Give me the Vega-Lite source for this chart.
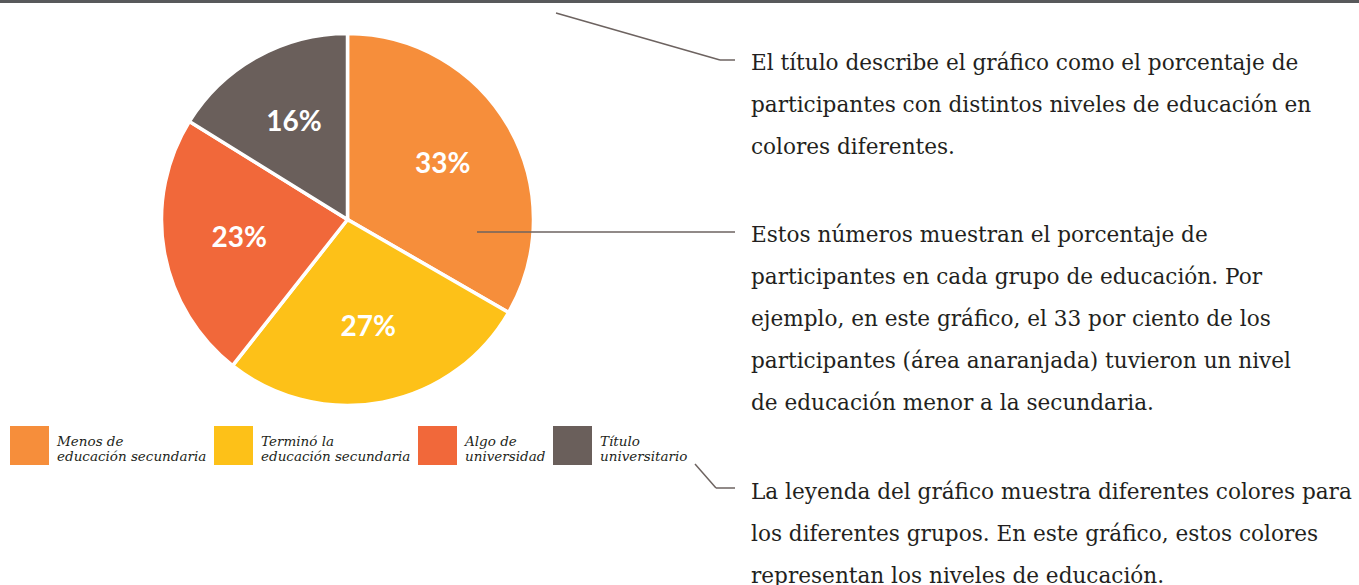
{
  "$schema": "https://vega.github.io/schema/vega-lite/v6.json",
  "width": 1359,
  "height": 585,
  "autosize": {"type": "none"},
  "padding": 0,
  "background": "white",
  "config": {"view": {"stroke": null}},
  "datasets": {
    "educacion": [
      {"grupo": "Menos de educación secundaria", "porcentaje": 0.33, "orden": 1},
      {"grupo": "Terminó la educación secundaria", "porcentaje": 0.27, "orden": 2},
      {"grupo": "Algo de universidad", "porcentaje": 0.23, "orden": 3},
      {"grupo": "Título universitario", "porcentaje": 0.16, "orden": 4}
    ]
  },
  "data": {"name": "educacion"},
  "layer": [
    {
      "data": {"values": [{}]},
      "mark": {"type": "rule", "color": "#58595b", "strokeWidth": 3},
      "encoding": {
        "x": {"datum": 0, "type": "quantitative", "scale": {"domain": [0, 1359], "nice": false, "zero": false}, "axis": null},
        "x2": {"datum": 1359},
        "y": {"datum": 1.5, "type": "quantitative", "scale": {"domain": [0, 585], "nice": false, "zero": false, "reverse": true}, "axis": null}
      }
    },
    {
      "mark": {"type": "arc", "outerRadius": 186, "stroke": "white", "strokeWidth": 3.5},
      "encoding": {
        "x": {"datum": 347.5, "type": "quantitative", "scale": {"domain": [0, 1359], "nice": false, "zero": false}, "axis": null},
        "y": {"datum": 219.5, "type": "quantitative", "scale": {"domain": [0, 585], "nice": false, "zero": false, "reverse": true}, "axis": null},
        "theta": {"field": "porcentaje", "type": "quantitative", "stack": true},
        "order": {"field": "orden", "type": "quantitative"},
        "color": {
          "field": "grupo",
          "type": "nominal",
          "scale": {
            "domain": ["Menos de educación secundaria", "Terminó la educación secundaria", "Algo de universidad", "Título universitario"],
            "range": ["#f68e3b", "#fdc118", "#f1683a", "#6a5f5b"]
          },
          "legend": {
            "title": null,
            "orient": "none",
            "legendX": 10,
            "legendY": 426,
            "direction": "horizontal",
            "columns": 4,
            "symbolType": "square",
            "symbolSize": 1521,
            "symbolStrokeWidth": 0,
            "symbolOpacity": 1,
            "labelFont": "DejaVu Serif",
            "labelFontStyle": "italic",
            "labelFontSize": 13.5,
            "labelColor": "#231f20",
            "labelBaseline": "alphabetic",
            "labelOffset": 8,
            "columnPadding": 7,
            "labelLimit": 400,
            "padding": 0,
            "labelExpr": "indexof(datum.label, 'educación secundaria') > 0 ? [replace(datum.label, ' educación secundaria', ''), 'educación secundaria'] : split(replace(datum.label, ' universi', '|universi'), '|')",
            "encode": {"labels": {"update": {"lineHeight": {"value": 19}, "dy": {"value": -4}}}}
          }
        }
      }
    },
    {
      "mark": {"type": "text", "radius": 110, "font": "Lato", "fontWeight": "bold", "fontSize": 28, "color": "white", "baseline": "middle", "align": "center"},
      "encoding": {
        "x": {"datum": 347.5, "type": "quantitative", "scale": {"domain": [0, 1359], "nice": false, "zero": false}, "axis": null},
        "y": {"datum": 219.5, "type": "quantitative", "scale": {"domain": [0, 585], "nice": false, "zero": false, "reverse": true}, "axis": null},
        "theta": {"field": "porcentaje", "type": "quantitative", "stack": true},
        "order": {"field": "orden", "type": "quantitative"},
        "text": {"field": "porcentaje", "type": "quantitative", "format": ".0%"}
      }
    },
    {
      "data": {"values": [{"nota": "El título describe el gráfico como el porcentaje de\nparticipantes con distintos niveles de educación en\ncolores diferentes."}]},
      "mark": {"type": "text", "font": "DejaVu Serif", "fontSize": 21.6, "lineHeight": 42, "lineBreak": "\n", "color": "#231f20", "align": "left", "baseline": "alphabetic"},
      "encoding": {
        "x": {"datum": 751, "type": "quantitative", "scale": {"domain": [0, 1359], "nice": false, "zero": false}, "axis": null},
        "y": {"datum": 70, "type": "quantitative", "scale": {"domain": [0, 585], "nice": false, "zero": false, "reverse": true}, "axis": null},
        "text": {"field": "nota", "type": "nominal"}
      }
    },
    {
      "data": {"values": [{"nota": "Estos números muestran el porcentaje de\nparticipantes en cada grupo de educación. Por\nejemplo, en este gráfico, el 33 por ciento de los\nparticipantes (área anaranjada) tuvieron un nivel\nde educación menor a la secundaria."}]},
      "mark": {"type": "text", "font": "DejaVu Serif", "fontSize": 21.6, "lineHeight": 42, "lineBreak": "\n", "color": "#231f20", "align": "left", "baseline": "alphabetic"},
      "encoding": {
        "x": {"datum": 751, "type": "quantitative", "scale": {"domain": [0, 1359], "nice": false, "zero": false}, "axis": null},
        "y": {"datum": 242, "type": "quantitative", "scale": {"domain": [0, 585], "nice": false, "zero": false, "reverse": true}, "axis": null},
        "text": {"field": "nota", "type": "nominal"}
      }
    },
    {
      "data": {"values": [{"nota": "La leyenda del gráfico muestra diferentes colores para\nlos diferentes grupos. En este gráfico, estos colores\nrepresentan los niveles de educación."}]},
      "mark": {"type": "text", "font": "DejaVu Serif", "fontSize": 21.6, "lineHeight": 42, "lineBreak": "\n", "color": "#231f20", "align": "left", "baseline": "alphabetic"},
      "encoding": {
        "x": {"datum": 751, "type": "quantitative", "scale": {"domain": [0, 1359], "nice": false, "zero": false}, "axis": null},
        "y": {"datum": 499, "type": "quantitative", "scale": {"domain": [0, 585], "nice": false, "zero": false, "reverse": true}, "axis": null},
        "text": {"field": "nota", "type": "nominal"}
      }
    },
    {
      "data": {"values": [{}]},
      "mark": {"type": "rule", "color": "#6d6360", "strokeWidth": 1.5},
      "encoding": {
        "x": {"datum": 556, "type": "quantitative", "scale": {"domain": [0, 1359], "nice": false, "zero": false}, "axis": null},
        "x2": {"datum": 720},
        "y": {"datum": 13, "type": "quantitative", "scale": {"domain": [0, 585], "nice": false, "zero": false, "reverse": true}, "axis": null},
        "y2": {"datum": 60}
      }
    },
    {
      "data": {"values": [{}]},
      "mark": {"type": "rule", "color": "#6d6360", "strokeWidth": 1.5},
      "encoding": {
        "x": {"datum": 720, "type": "quantitative", "scale": {"domain": [0, 1359], "nice": false, "zero": false}, "axis": null},
        "x2": {"datum": 735},
        "y": {"datum": 60, "type": "quantitative", "scale": {"domain": [0, 585], "nice": false, "zero": false, "reverse": true}, "axis": null}
      }
    },
    {
      "data": {"values": [{}]},
      "mark": {"type": "rule", "color": "#6d6360", "strokeWidth": 1.5},
      "encoding": {
        "x": {"datum": 477, "type": "quantitative", "scale": {"domain": [0, 1359], "nice": false, "zero": false}, "axis": null},
        "x2": {"datum": 735},
        "y": {"datum": 232, "type": "quantitative", "scale": {"domain": [0, 585], "nice": false, "zero": false, "reverse": true}, "axis": null}
      }
    },
    {
      "data": {"values": [{}]},
      "mark": {"type": "rule", "color": "#6d6360", "strokeWidth": 1.5},
      "encoding": {
        "x": {"datum": 695, "type": "quantitative", "scale": {"domain": [0, 1359], "nice": false, "zero": false}, "axis": null},
        "x2": {"datum": 716},
        "y": {"datum": 464, "type": "quantitative", "scale": {"domain": [0, 585], "nice": false, "zero": false, "reverse": true}, "axis": null},
        "y2": {"datum": 488}
      }
    },
    {
      "data": {"values": [{}]},
      "mark": {"type": "rule", "color": "#6d6360", "strokeWidth": 1.5},
      "encoding": {
        "x": {"datum": 716, "type": "quantitative", "scale": {"domain": [0, 1359], "nice": false, "zero": false}, "axis": null},
        "x2": {"datum": 735},
        "y": {"datum": 488, "type": "quantitative", "scale": {"domain": [0, 585], "nice": false, "zero": false, "reverse": true}, "axis": null}
      }
    }
  ]
}
